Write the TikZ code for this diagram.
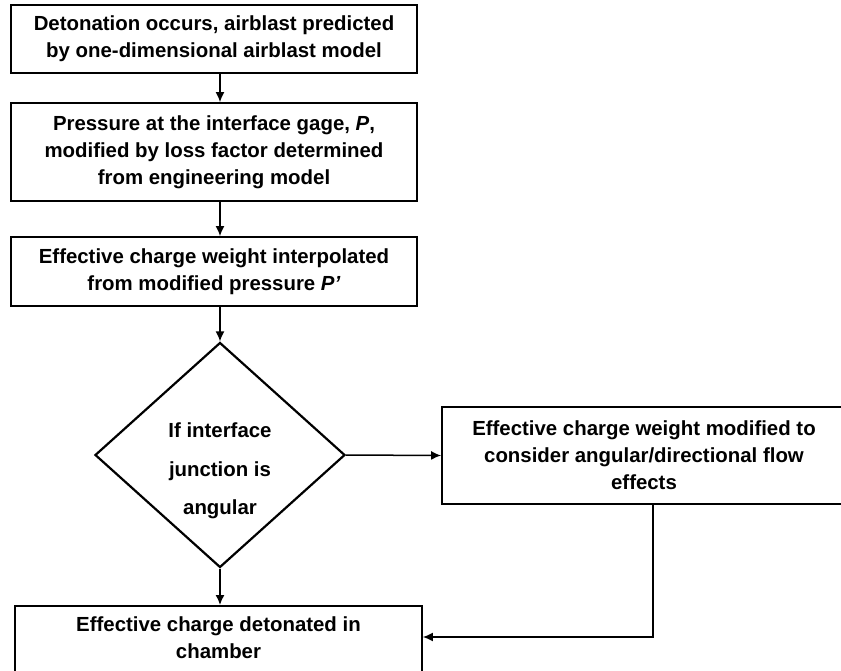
\documentclass[tikz,border=0pt]{standalone}
\usepackage{fontspec}
\setmainfont{Liberation Sans}
\usetikzlibrary{arrows.meta, shapes.geometric}

\begin{document}
\begin{tikzpicture}[x=1pt, y=-1pt, font=\fontsize{20.4}{27}\selectfont\bfseries,
  box/.style={draw, line width=1.8pt, align=center, minimum width=406, inner sep=0pt},
  flow/.style={line width=1.5pt, -{Latex[length=10pt, width=9pt]}}]
\useasboundingbox (0,0) rectangle (841,671);
\node [box, minimum height=68] (detonation) at (214,39)
  {Detonation occurs, airblast predicted\\by one-dimensional airblast model};
\node [box, minimum height=98] (pressure) at (214,152)
  {Pressure at the interface gage, \textit{P},\\modified by loss factor determined\\from engineering model};
\node [box, minimum height=69] (weight) at (214,271.5)
  {Effective charge weight interpolated\\from modified pressure \textit{P’}};
\node [draw, diamond, line width=2.2pt, align=center, inner sep=0pt, aspect=1.11,
  minimum width=250, minimum height=225] (decision) at (220,455)
  {\rule{0pt}{46pt}If interface\\[12pt]junction is\\[11pt]angular};
\node [box, minimum width=404, minimum height=97] (angle) at (644,455.5)
  {Effective charge weight modified to\\consider angular/directional flow\\effects};
\node [box, minimum width=407, anchor=north, inner ysep=11pt, text depth=45pt] (final) at (218.5,605)
  {Effective charge detonated in\\chamber};
\coordinate (turn) at (653,637);
% arrows down the main column
\draw [flow] (decision.north |- detonation.south) -- (decision.north |- pressure.north);
\draw [flow] (decision.north |- pressure.south) -- (decision.north |- weight.north);
\draw [flow] (decision.north |- weight.south) -- (decision.north);
\draw [flow] (decision.south) -- (decision.south |- final.north);
% side branch
\draw [flow] (decision.east) -- (angle.west);
\draw [flow] (angle.south -| turn) -- (turn) -- (final.east |- turn);
\end{tikzpicture}
\end{document}
